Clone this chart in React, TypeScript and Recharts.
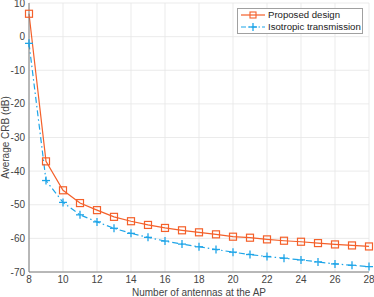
import { LineChart, Line, XAxis, YAxis, CartesianGrid } from "recharts"

const antennas = [8, 9, 10, 11, 12, 13, 14, 15, 16, 17, 18, 19, 20, 21, 22, 23, 24, 25, 26, 27, 28]
const proposed = [6.8, -37.1, -45.7, -49.5, -51.6, -53.6, -54.9, -56.0, -56.9, -57.6, -58.2, -58.8, -59.5, -59.8, -60.3, -60.7, -61.0, -61.4, -61.8, -62.1, -62.4]
const isotropic = [-2.0, -42.8, -49.3, -53.0, -55.1, -57.0, -58.5, -59.7, -60.8, -61.7, -62.5, -63.3, -64.1, -64.8, -65.4, -65.9, -66.4, -67.0, -67.6, -68.0, -68.4]
const xTicks = [8, 10, 12, 14, 16, 18, 20, 22, 24, 26, 28]
const yTicks = [-70, -60, -50, -40, -30, -20, -10, 0, 10]

const data = antennas.map((n, i) => ({ n, proposed: proposed[i], isotropic: isotropic[i] }))

const ORANGE = "#f4602a"
const BLUE = "#1ea5e8"
const FONT = "'Liberation Sans', Arial, sans-serif"

const SquareDot = (props: any) => {
  const { cx, cy } = props
  if (cx == null || cy == null) return null
  return <rect x={cx - 3.5} y={cy - 3.5} width={7} height={7} fill="none" stroke={ORANGE} strokeWidth={1.2} />
}

const PlusDot = (props: any) => {
  const { cx, cy } = props
  if (cx == null || cy == null) return null
  return (
    <g stroke={BLUE} strokeWidth={1.3}>
      <line x1={cx - 4} x2={cx + 4} y1={cy} y2={cy} />
      <line x1={cx} x2={cx} y1={cy - 4} y2={cy + 4} />
    </g>
  )
}

const LegendBox = () => (
  <div
    style={{
      position: "absolute",
      left: 237,
      top: 8,
      width: 126,
      height: 26,
      boxSizing: "border-box",
      border: "1px solid #a0a0a0",
      background: "#fff",
      fontFamily: FONT,
      fontSize: 9.6,
      color: "#222",
      lineHeight: "12px",
      whiteSpace: "nowrap",
    }}
  >
    <div style={{ display: "flex", alignItems: "center" }}>
      <svg width={30} height={12}>
        <line x1={3} x2={27} y1={6} y2={6} stroke={ORANGE} strokeWidth={1.2} />
        <rect x={12} y={3} width={6} height={6} fill="none" stroke={ORANGE} strokeWidth={1.1} />
      </svg>
      <span>Proposed design</span>
    </div>
    <div style={{ display: "flex", alignItems: "center" }}>
      <svg width={30} height={12}>
        <line x1={3} x2={27} y1={6} y2={6} stroke={BLUE} strokeWidth={1.2} strokeDasharray="5 2 1.5 2" />
        <line x1={11} x2={19} y1={6} y2={6} stroke={BLUE} strokeWidth={1.3} />
        <line x1={15} x2={15} y1={2} y2={10} stroke={BLUE} strokeWidth={1.3} />
      </svg>
      <span>Isotropic transmission</span>
    </div>
  </div>
)

const labelStyle = { fontSize: 10, fill: "#444", fontFamily: FONT }

export default function App() {
  return (
    <div style={{ position: "absolute", left: 0, top: 0, width: 374, height: 297, background: "#fff" }}>
      <LineChart width={374} height={297} data={data} margin={{ top: 3, right: 5, bottom: 0, left: 0 }}>
        <CartesianGrid stroke="#e6e6e6" strokeWidth={0.8} horizontal vertical />
        <XAxis
          dataKey="n"
          type="number"
          domain={[8, 28]}
          ticks={xTicks}
          interval={0}
          height={25}
          stroke="#7a7a7a"
          tickSize={0}
          tickMargin={4}
          tick={{ fontSize: 10, fill: "#444", fontFamily: FONT }}
          label={(p: any) => {
            const vb = p.viewBox || {}
            return (
              <text x={vb.x + vb.width / 2} y={296} textAnchor="middle" {...labelStyle}>
                Number of antennas at the AP
              </text>
            )
          }}
        />
        <YAxis
          type="number"
          domain={[-70, 10]}
          ticks={yTicks}
          interval={0}
          width={29}
          stroke="#7a7a7a"
          tickSize={0}
          tickMargin={4}
          tick={{ fontSize: 10, fill: "#444", fontFamily: FONT }}
          label={(p: any) => {
            const vb = p.viewBox || {}
            const cy = vb.y + vb.height / 2
            return (
              <text x={9} y={cy} transform={`rotate(-90 9 ${cy})`} textAnchor="middle" {...labelStyle}>
                Average CRB (dB)
              </text>
            )
          }}
        />
        <Line
          dataKey="isotropic"
          stroke={BLUE}
          strokeWidth={1.2}
          strokeDasharray="6 3 1.5 3"
          dot={<PlusDot />}
          isAnimationActive={false}
        />
        <Line
          dataKey="proposed"
          stroke={ORANGE}
          strokeWidth={1.2}
          dot={<SquareDot />}
          isAnimationActive={false}
        />
      </LineChart>
      <LegendBox />
    </div>
  )
}
